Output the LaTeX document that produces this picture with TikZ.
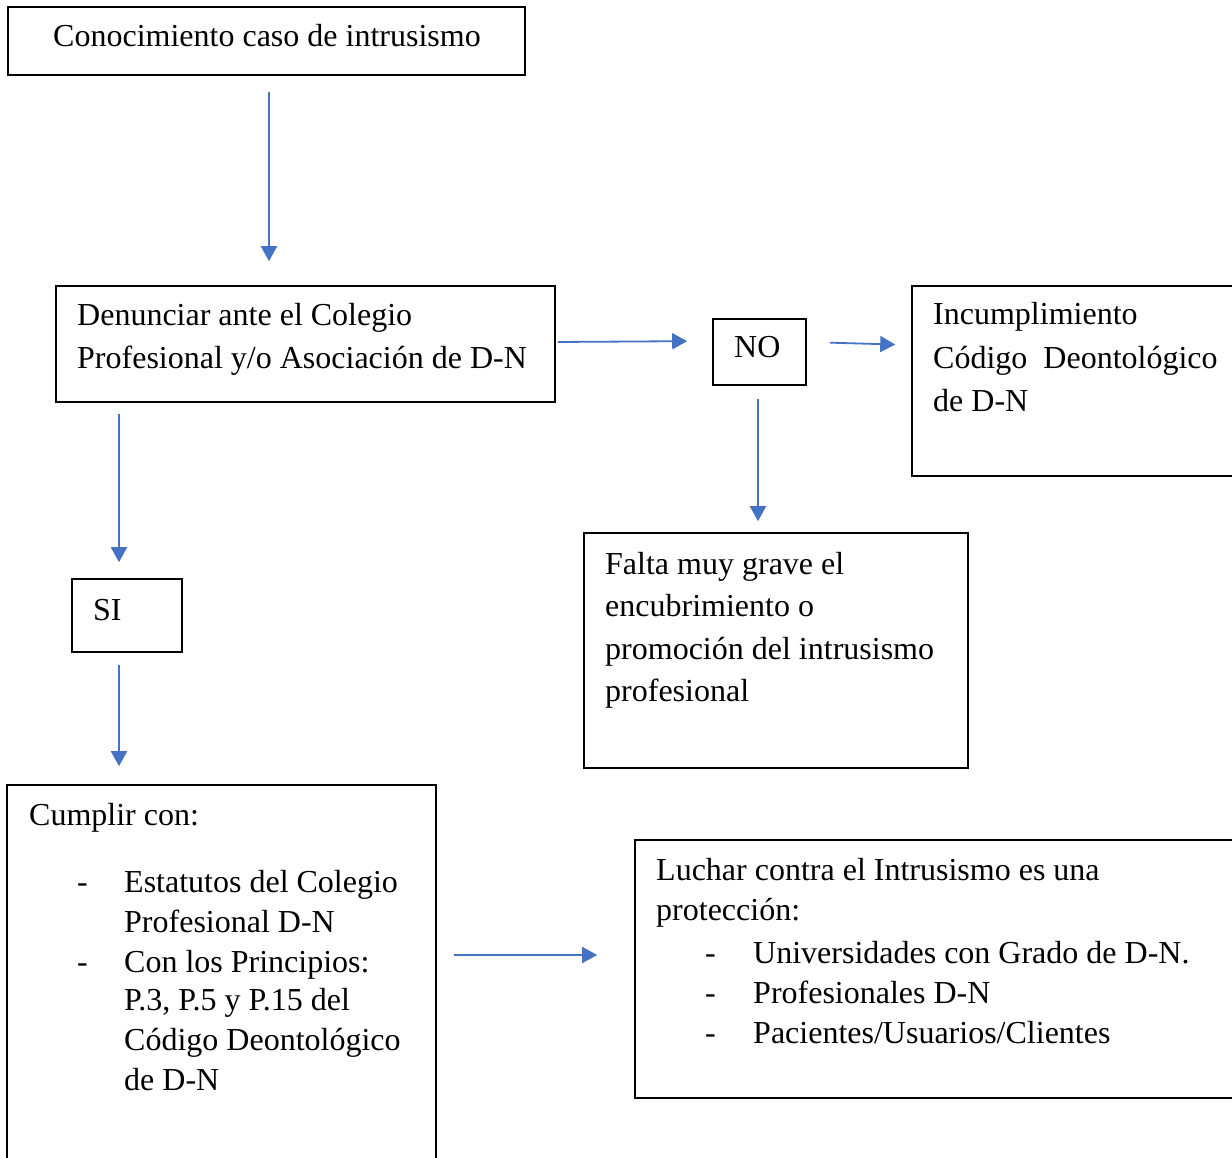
\documentclass[tikz,border=0pt]{standalone}
\usepackage{fontspec}
\setmainfont{Liberation Serif}
\usetikzlibrary{arrows.meta}
\definecolor{arrowblue}{RGB}{68,114,196}
\tikzset{
  box/.style={draw=black, line width=1.6pt, rectangle, inner sep=0pt},
  txt/.style={anchor=base west, inner sep=0pt, font=\fontsize{32}{40}\selectfont},
  arr/.style={draw=arrowblue, line width=1.8pt, -{Triangle[length=15pt,width=16pt]}}
}
\begin{document}
\begin{tikzpicture}[x=1pt,y=-1pt]
\clip (0,0) rectangle (1232,1158);
\fill[white] (0,0) rectangle (1232,1158);

% boxes
\node[box, minimum width=517pt, minimum height=68pt] (b1) at (266.5,41) {};
\node[box, minimum width=499pt, minimum height=116pt] (b2) at (305.5,344) {};
\node[box, minimum width=93pt, minimum height=66pt] (no) at (759.5,352) {};
\node[box, minimum width=330pt, minimum height=190pt] (inc) at (1077,381) {};
\node[box, minimum width=384pt, minimum height=235pt] (falta) at (776,650.5) {};
\node[box, minimum width=110pt, minimum height=73pt] (si) at (127,615.5) {};
\node[box, minimum width=429pt, minimum height=385pt] (cum) at (221.5,977.5) {};
\node[box, minimum width=607pt, minimum height=258pt] (luc) at (938.5,969) {};

% texts
\node[txt] (t1) at (53,47) {Conocimiento caso de intrusismo};

\node[txt] (t2a) at (77,326) {Denunciar ante el Colegio};
\node[txt] (t2b) at (77,369) {Profesional y/o Asociación de D-N};

\node[txt] (tno) at (734,358) {NO};

\node[txt] (tia) at (933,325) {Incumplimiento};
\node[txt] (tib) at (933,368) {Código\ \ Deontológico};
\node[txt] (tic) at (933,411) {de D-N};

\node[txt] (tfa) at (605,574) {Falta muy grave el};
\node[txt] (tfb) at (605,616) {encubrimiento o};
\node[txt] (tfc) at (605,659) {promoción del intrusismo};
\node[txt] (tfd) at (605,701) {profesional};

\node[txt] (tsi) at (93,620) {SI};

\node[txt] (tca) at (29,825) {Cumplir con:};
\node[txt] (tcd1) at (77,892) {-};
\node[txt] (tcd2) at (77,972) {-};
\node[txt] (tcb) at (124,892) {Estatutos del Colegio};
\node[txt] (tcc) at (124,932) {Profesional D-N};
\node[txt] (tce) at (124,972) {Con los Principios:};
\node[txt] (tcf) at (124,1010) {P.3, P.5 y P.15 del};
\node[txt] (tcg) at (124,1050) {Código Deontológico};
\node[txt] (tch) at (124,1090) {de D-N};

\node[txt] (tla) at (656,880) {Luchar contra el Intrusismo es una};
\node[txt] (tlb) at (656,920) {protección:};
\node[txt] (tld1) at (705,963) {-};
\node[txt] (tld2) at (705,1003) {-};
\node[txt] (tld3) at (705,1043) {-};
\node[txt] (tlc) at (753,963) {Universidades con Grado de D-N.};
\node[txt] (tle) at (753,1003) {Profesionales D-N};
\node[txt] (tlf) at (753,1043) {Pacientes/Usuarios/Clientes};

% connectors
\draw[arr, shorten <=16pt, shorten >=24pt] ([xshift=2.5pt]b1.south) -- ([xshift=2.5pt]b1.south |- b2.north);
\draw[arr, shorten <=2pt, shorten >=25pt] ([yshift=2pt]b2.east) -- ([yshift=11pt]no.west);
\draw[arr, shorten <=23pt, shorten >=16pt] ([yshift=10pt]no.east) -- ([yshift=7pt]no.east -| inc.west);
\draw[arr, shorten <=13pt, shorten >=11pt] ([xshift=-1.5pt]no.south) -- ([xshift=-1.5pt]no.south |- falta.north);
\draw[arr, shorten <=11pt, shorten >=16pt] ([xshift=-8pt]si.north |- b2.south) -- ([xshift=-8pt]si.north);
\draw[arr, shorten <=12pt, shorten >=18pt] ([xshift=-8pt]si.south) -- ([xshift=-8pt]si.south |- cum.north);
\draw[arr, shorten <=17pt, shorten >=37pt] ([yshift=22.5pt]cum.east) -- ([yshift=22.5pt]cum.east -| luc.west);
\end{tikzpicture}
\end{document}
